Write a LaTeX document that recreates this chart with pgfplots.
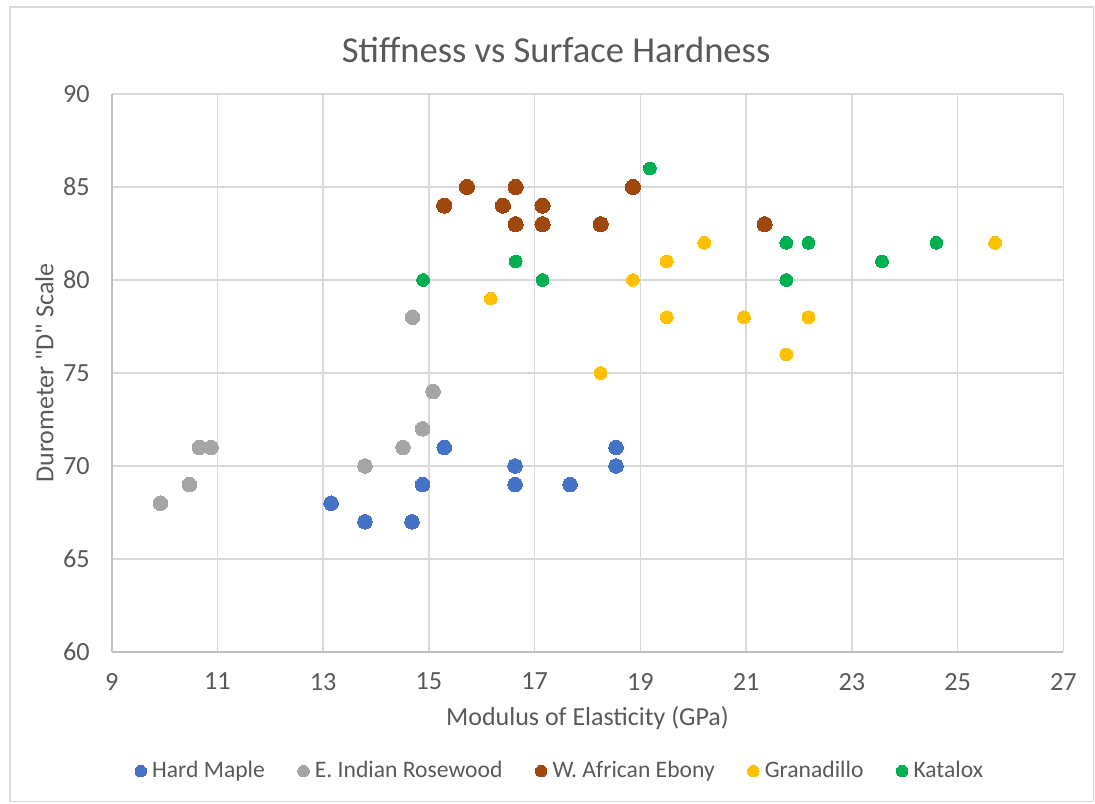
\documentclass[border=0pt]{standalone}
\usepackage{fontspec}
\setmainfont{Carlito}[Ligatures=TeXOff]
\usepackage{pgfplots}
\pgfplotsset{compat=1.18}
\definecolor{txt}{HTML}{595959}
\definecolor{gridc}{HTML}{D9D9D9}
\definecolor{axc}{HTML}{BFBFBF}
\definecolor{cmaple}{HTML}{4472C4}
\definecolor{crose}{HTML}{A5A5A5}
\definecolor{cebony}{HTML}{9E480E}
\definecolor{cgran}{HTML}{FFC000}
\definecolor{ckat}{HTML}{00B050}
\begin{document}
\begin{tikzpicture}
\useasboundingbox (-55.85pt,-75.5pt) rectangle (491.65pt,326pt);
\draw[gridc, line width=0.6pt] (-50.85pt,-74.6pt) rectangle (490.8pt,322.5pt);
\begin{axis}[
  at={(0,0)}, anchor=south west,
  scale only axis, width=475.8pt, height=279pt,
  xmin=9, xmax=27, ymin=60, ymax=90,
  xtick={9,11,...,27}, ytick={60,65,...,90},
  grid=major,
  major grid style={gridc, line width=0.75pt},
  axis line style={axc, line width=0.9pt},
  axis x line*=bottom, axis y line*=left,
  tick style={draw=none},
  /pgf/number format/assume math mode=true,
  ticklabel style={font=\fontsize{13.1}{15}\selectfont, text=txt},
  xticklabel style={yshift=-7pt},
  yticklabel style={xshift=-7.5pt},
  clip=false,
  legend columns=5,
  legend style={draw=none, fill=none, at={(0.473,-0.2135)}, anchor=center,
    font=\fontsize{11.8}{14}\selectfont, text=txt,
    /tikz/every even column/.append style={column sep=13.6pt},
    nodes={inner xsep=2.8pt}},
  legend cell align=left,
  legend image code/.code={\draw[#1, mark size=2.9pt] plot coordinates {(0pt,0pt)};},
]
\addplot[only marks, mark=*, mark size=3.65pt, draw=none, fill=cmaple, mark options={draw=cmaple, line width=0pt}] coordinates {
(13.15,68) (13.79,67) (14.68,67) (14.88,69) (15.29,71) (16.63,70) (16.63,69) (17.67,69) (18.54,71) (18.54,70)};
\addlegendentry{Hard Maple}
\addplot[only marks, mark=*, mark size=3.65pt, draw=none, fill=crose, mark options={draw=crose, line width=0pt}] coordinates {
(9.92,68) (10.47,69) (10.66,71) (10.88,71) (13.79,70) (14.51,71) (14.88,72) (15.08,74) (14.69,78)};
\addlegendentry{E. Indian Rosewood}
\addplot[only marks, mark=*, mark size=3.8pt, draw=none, fill=cebony, mark options={draw=cebony, line width=0pt}] coordinates {
(15.29,84) (15.72,85) (16.40,84) (16.64,85) (16.64,83) (17.15,84) (17.15,83) (18.25,83) (18.86,85) (21.35,83)};
\addlegendentry{W. African Ebony}
\addplot[only marks, mark=*, mark size=3.2pt, draw=none, fill=cgran, mark options={draw=cgran, line width=0pt}] coordinates {
(16.17,79) (18.25,75) (18.86,80) (19.50,81) (20.21,82) (19.50,78) (20.96,78) (22.18,78) (21.76,76) (25.71,82)};
\addlegendentry{Granadillo}
\addplot[only marks, mark=*, mark size=3.2pt, draw=none, fill=ckat, mark options={draw=ckat, line width=0pt}] coordinates {
(14.89,80) (16.64,81) (17.15,80) (19.18,86) (21.76,82) (22.18,82) (21.76,80) (23.57,81) (24.60,82)};
\addlegendentry{Katalox}
\node[anchor=base, text=txt, font=\fontsize{18.3}{21}\selectfont] at (axis description cs:0.467,1) [yshift=15.5pt] {Stiffness vs Surface Hardness};
\node[anchor=base, text=txt, font=\fontsize{13}{15}\selectfont] at (axis description cs:0.5,0) [yshift=-36.5pt] {Modulus of Elasticity (GPa)};
\node[anchor=center, rotate=90, text=txt, font=\fontsize{13}{15}\selectfont] at ([xshift=-33.6pt]axis description cs:0,0.5) {Durometer "D" Scale};
\end{axis}
\end{tikzpicture}
\end{document}
